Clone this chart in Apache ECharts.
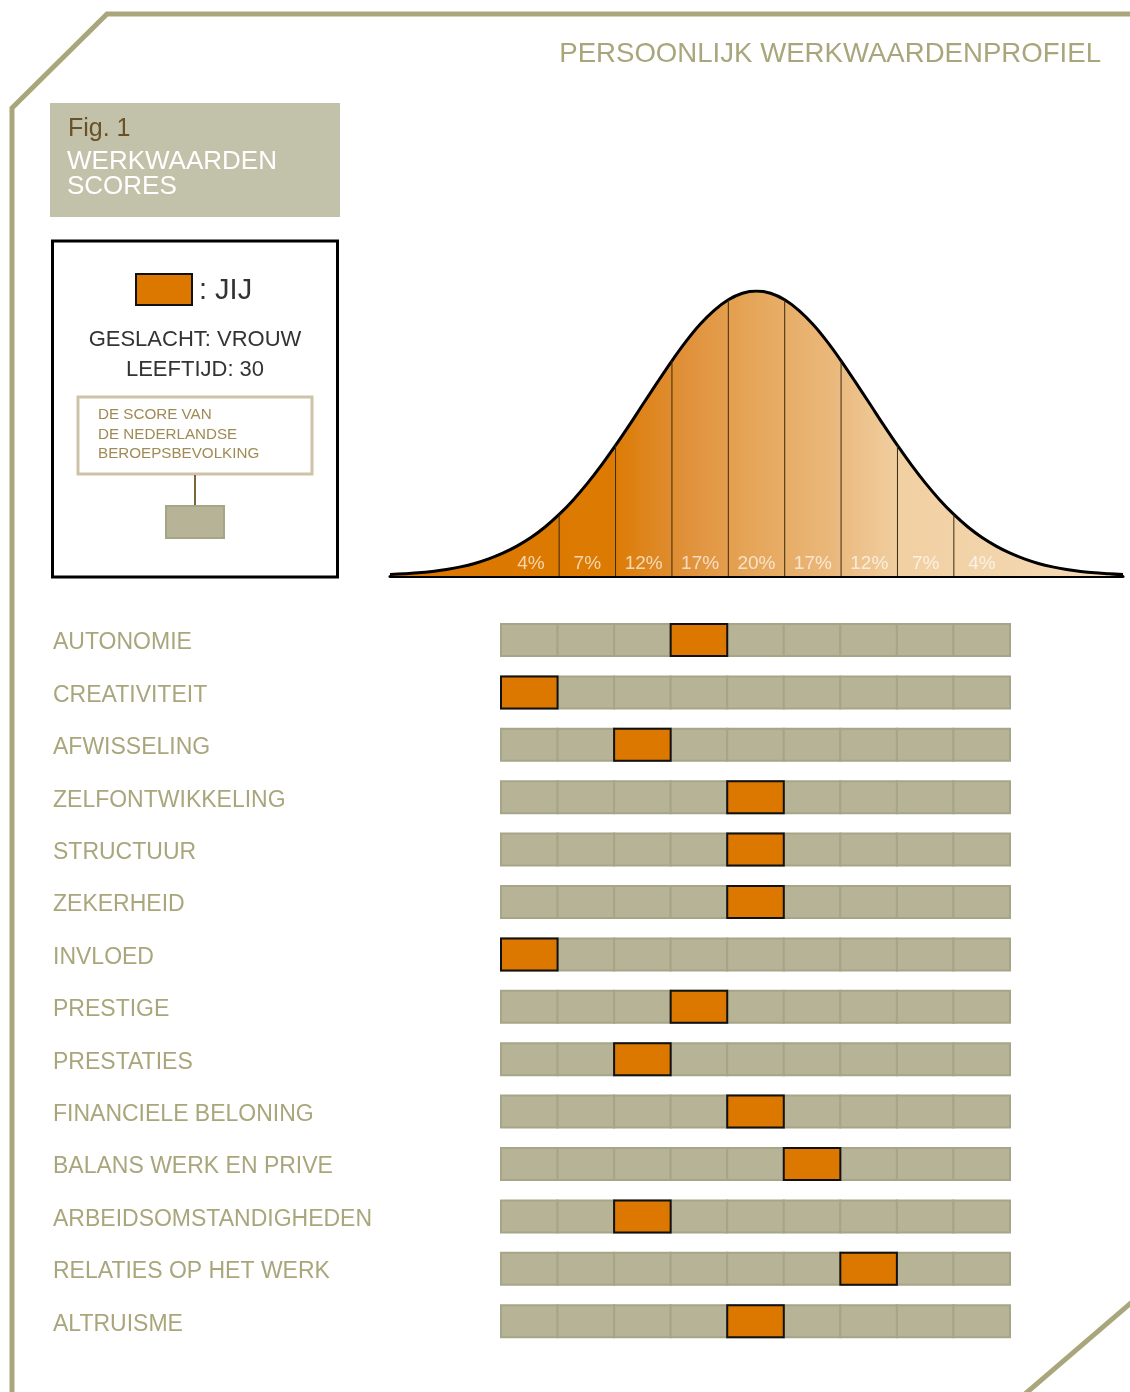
<!DOCTYPE html>
<html>
<head>
<meta charset="utf-8">
<script src="https://cdn.jsdelivr.net/npm/echarts@6/dist/echarts.min.js"></script>
<style>
  html, body { margin: 0; padding: 0; background: #fff; }
  #main { width: 1130px; height: 1392px; }
</style>
</head>
<body>
<div id="main"></div>
<script>
// werkwaarden (rijen) en de score van "jij" per rij (stanine 1-9)
var waarden = ['AUTONOMIE', 'CREATIVITEIT', 'AFWISSELING', 'ZELFONTWIKKELING', 'STRUCTUUR',
  'ZEKERHEID', 'INVLOED', 'PRESTIGE', 'PRESTATIES', 'FINANCIELE BELONING',
  'BALANS WERK EN PRIVE', 'ARBEIDSOMSTANDIGHEDEN', 'RELATIES OP HET WERK', 'ALTRUISME'];
var scores = [4, 1, 3, 5, 5, 5, 1, 4, 3, 5, 6, 3, 7, 5];

var stanines = [1, 2, 3, 4, 5, 6, 7, 8, 9];
var percentages = ['4%', '7%', '12%', '17%', '20%', '17%', '12%', '7%', '4%'];

// klokcurve: hoogte (in % van de top) per kwart stanine
var curveX = [-1.5, -1.25, -1, -0.75, -0.5, -0.25, 0, 0.25, 0.5, 0.75, 1, 1.25, 1.5, 1.75,
  2, 2.25, 2.5, 2.75, 3, 3.25, 3.5, 3.75, 4, 4.25, 4.5, 4.75, 5,
  5.25, 5.5, 5.75, 6, 6.25, 6.5, 6.75, 7, 7.25, 7.5, 7.75, 8, 8.25, 8.5, 8.75,
  9, 9.25, 9.5, 9.75, 10, 10.25, 10.5, 10.75, 11, 11.25, 11.5];
var curveY = [0.5, 0.8, 1.1, 1.6, 2.3, 3.2, 4.4, 6.0, 8.0, 10.5, 13.5, 17.2, 21.6, 26.7,
  32.5, 38.9, 45.8, 53.1, 60.7, 68.2, 75.5, 82.3, 88.3, 93.2, 96.9, 99.2, 100,
  99.2, 96.9, 93.2, 88.3, 82.3, 75.5, 68.2, 60.7, 53.1, 45.8, 38.9, 32.5, 26.7, 21.6, 17.2,
  13.5, 10.5, 8.0, 6.0, 4.4, 3.2, 2.3, 1.6, 1.1, 0.8, 0.5];
var grenzen = [1.5, 2.5, 3.5, 4.5, 5.5, 6.5, 7.5, 8.5];

var olive = '#a9a67c';
var font = "'Liberation Sans', Arial, sans-serif";

var chart = echarts.init(document.getElementById('main'), null, { renderer: 'canvas' });

var curveData = curveX.map(function (x, i) { return [x, curveY[i]]; });
var grensData = grenzen.map(function (g) { return [g, curveY[curveX.indexOf(g)]]; });

var cellData = [];
waarden.forEach(function (w, r) {
  stanines.forEach(function (s) { cellData.push([s, r]); });
});
var jijData = scores.map(function (s, r) { return [s, r]; });

function cellRenderer(fill, stroke, lw) {
  return function (params, api) {
    var a = api.coord([api.value(0) - 0.5, api.value(1)]);
    var b = api.coord([api.value(0) + 0.5, api.value(1)]);
    var h = api.size([0, 1])[1] * 0.61;
    return {
      type: 'rect',
      shape: { x: a[0], y: a[1] - h / 2, width: b[0] - a[0], height: h },
      style: { fill: fill, stroke: stroke, lineWidth: lw }
    };
  };
}

var option = {
  animation: false,
  backgroundColor: '#fff',
  grid: [
    { left: 390, top: 291, width: 733, height: 285 },
    { left: 501, top: 613.8, width: 509, height: 733.6 }
  ],
  xAxis: [
    {
      gridIndex: 0, type: 'value', min: -1.5, max: 11.5,
      axisLine: { show: true, onZero: false, lineStyle: { color: '#000', width: 3 } },
      axisTick: { show: false }, axisLabel: { show: false }, splitLine: { show: false }
    },
    {
      gridIndex: 1, type: 'value', min: 0.5, max: 9.5, show: false
    }
  ],
  yAxis: [
    { gridIndex: 0, type: 'value', min: 0, max: 100, show: false },
    {
      gridIndex: 1, type: 'category', data: waarden, inverse: true,
      axisLine: { show: false }, axisTick: { show: false }, splitLine: { show: false },
      axisLabel: {
        align: 'left', margin: 448, color: olive, fontSize: 23, fontFamily: font,
        verticalAlign: 'top', lineHeight: 26, padding: [-10, 0, 0, 0]
      }
    }
  ],
  series: [
    {
      type: 'line', xAxisIndex: 0, yAxisIndex: 0, data: curveData,
      smooth: 0.3, symbol: 'none', z: 3,
      lineStyle: { color: '#000', width: 3 },
      areaStyle: {
        opacity: 1,
        color: new echarts.graphic.LinearGradient(0, 0, 1, 0, [
          { offset: 0, color: '#db7700' },
          { offset: 0.3, color: '#dc7a02' },
          { offset: 0.4, color: '#e09038' },
          { offset: 0.5, color: '#e6a75b' },
          { offset: 0.6, color: '#eab77a' },
          { offset: 0.7, color: '#f1d0a2' },
          { offset: 1, color: '#f4dbb9' }
        ])
      }
    },
    {
      type: 'bar', xAxisIndex: 0, yAxisIndex: 0, data: grensData,
      barWidth: 1, z: 4, itemStyle: { color: '#3a2a12' }
    },
    {
      type: 'scatter', xAxisIndex: 0, yAxisIndex: 0, symbolSize: 0, z: 5,
      data: stanines.map(function (s) { return [s, 4.2]; }),
      label: {
        show: true, position: 'inside', color: 'rgba(255,255,255,0.85)',
        fontSize: 19, fontFamily: font,
        formatter: function (p) { return percentages[p.dataIndex]; }
      }
    },
    {
      type: 'custom', xAxisIndex: 1, yAxisIndex: 1, data: cellData,
      encode: { x: 0, y: 1 },
      renderItem: cellRenderer('#b6b396', '#a7a587', 2)
    },
    {
      type: 'custom', xAxisIndex: 1, yAxisIndex: 1, data: jijData, z: 3,
      encode: { x: 0, y: 1 },
      renderItem: cellRenderer('#dc7800', '#111', 2)
    }
  ],
  graphic: [
    // kader
    { type: 'polyline', shape: { points: [[12, 1392], [12, 108], [107, 14], [1130, 14]] },
      style: { stroke: olive, lineWidth: 5, fill: null } },
    { type: 'line', shape: { x1: 1025, y1: 1394, x2: 1132, y2: 1302 },
      style: { stroke: olive, lineWidth: 5 } },
    { type: 'text', x: 1101, y: 54,
      style: { text: 'PERSOONLIJK WERKWAARDENPROFIEL', fill: olive, font: '27.6px ' + font,
        textAlign: 'right', textVerticalAlign: 'middle' } },
    // Fig. 1 blok
    { type: 'rect', shape: { x: 50, y: 103, width: 290, height: 114 }, style: { fill: '#c2c1a9' } },
    { type: 'text', x: 68, y: 129,
      style: { text: 'Fig. 1', fill: '#6b5226', font: '25px ' + font, textVerticalAlign: 'middle' } },
    { type: 'text', x: 67, y: 162,
      style: { text: 'WERKWAARDEN', fill: '#fff', font: '26px ' + font, textVerticalAlign: 'middle' } },
    { type: 'text', x: 67, y: 187,
      style: { text: 'SCORES', fill: '#fff', font: '26px ' + font, textVerticalAlign: 'middle' } },
    // legenda
    { type: 'rect', shape: { x: 52.5, y: 241, width: 285, height: 336 },
      style: { fill: '#fff', stroke: '#000', lineWidth: 3 } },
    { type: 'rect', shape: { x: 136, y: 274, width: 56, height: 31 },
      style: { fill: '#dc7800', stroke: '#111', lineWidth: 2 } },
    { type: 'text', x: 199, y: 291,
      style: { text: ': JIJ', fill: '#333', font: '29px ' + font, textVerticalAlign: 'middle' } },
    { type: 'text', x: 195, y: 340,
      style: { text: 'GESLACHT: VROUW', fill: '#333', font: '22px ' + font,
        textAlign: 'center', textVerticalAlign: 'middle' } },
    { type: 'text', x: 195, y: 370,
      style: { text: 'LEEFTIJD: 30', fill: '#333', font: '22px ' + font,
        textAlign: 'center', textVerticalAlign: 'middle' } },
    { type: 'rect', shape: { x: 78, y: 397, width: 234, height: 77 },
      style: { fill: '#fff', stroke: '#cdc4a8', lineWidth: 3 } },
    { type: 'text', x: 98, y: 415,
      style: { text: 'DE SCORE VAN', fill: '#a08a55', font: '15.2px ' + font, textVerticalAlign: 'middle' } },
    { type: 'text', x: 98, y: 435,
      style: { text: 'DE NEDERLANDSE', fill: '#a08a55', font: '15.2px ' + font, textVerticalAlign: 'middle' } },
    { type: 'text', x: 98, y: 454,
      style: { text: 'BEROEPSBEVOLKING', fill: '#a08a55', font: '15.2px ' + font, textVerticalAlign: 'middle' } },
    { type: 'line', shape: { x1: 195, y1: 475, x2: 195, y2: 506 },
      style: { stroke: '#7a6638', lineWidth: 2 } },
    { type: 'rect', shape: { x: 166, y: 506, width: 58, height: 32 },
      style: { fill: '#b6b396', stroke: '#a7a587', lineWidth: 2 } }
  ]
};

chart.setOption(option);
</script>
</body>
</html>
